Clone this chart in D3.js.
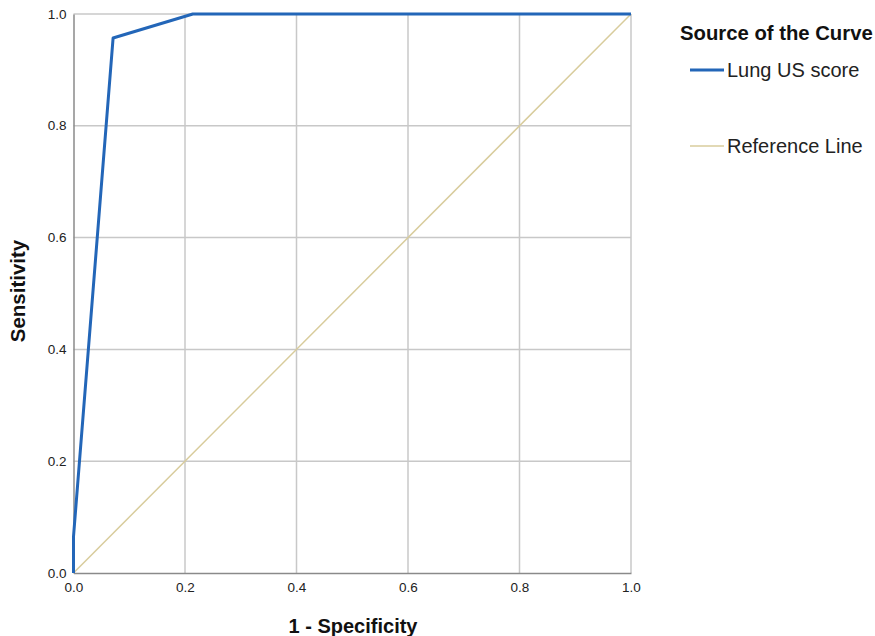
<!DOCTYPE html>
<html><head><meta charset="utf-8">
<script src="https://cdn.jsdelivr.net/npm/d3@7"></script>
<style>body{margin:0;background:#fff;} text{font-family:"Liberation Sans",Arial,sans-serif;}</style>
</head><body>
<svg id="c" width="875" height="636"></svg>
<script>
const rocX = [0, 0, 0.071, 0.214, 1];
const rocY = [0, 0.065, 0.957, 1, 1];
const refX = [0, 1];
const refY = [0, 1];
const ticks = [0, 0.2, 0.4, 0.6, 0.8, 1.0];
const legendLabels = ["Lung US score", "Reference Line"];
const colors = ["#2366b8", "#d8cc9c"];

const svg = d3.select("#c");
const L = 73.5, R = 631, T = 14, B = 573;
const x = d3.scaleLinear().domain([0,1]).range([L,R]);
const y = d3.scaleLinear().domain([0,1]).range([B,T]);

// grid
svg.append("g").selectAll("line.gx").data(ticks.slice(1)).enter().append("line")
  .attr("x1", d=>x(d)).attr("x2", d=>x(d)).attr("y1", T).attr("y2", B)
  .attr("stroke", "#c8c8c8").attr("stroke-width", 1.5);
svg.append("g").selectAll("line.gy").data(ticks.slice(1)).enter().append("line")
  .attr("y1", d=>y(d)).attr("y2", d=>y(d)).attr("x1", L).attr("x2", R)
  .attr("stroke", "#c8c8c8").attr("stroke-width", 1.5);

// axes
const xa = svg.append("g").attr("transform", `translate(0,${B})`)
  .call(d3.axisBottom(x).tickValues(ticks).tickFormat(d3.format(".1f")).tickSize(0).tickPadding(9));
const ya = svg.append("g").attr("transform", `translate(${L},0)`)
  .call(d3.axisLeft(y).tickValues(ticks).tickFormat(d3.format(".1f")).tickSize(0).tickPadding(7));
[xa, ya].forEach(a => {
  a.select(".domain").attr("stroke", "#8a8a8a").attr("stroke-width", 1.5);
  a.selectAll("text").attr("font-size", 13.5).attr("fill", "#222").style("font-family", "Liberation Sans, Arial, sans-serif");
});
ya.selectAll("text").attr("dy", "0.3em");

// reference line
const line = d3.line().x(d=>x(d[0])).y(d=>y(d[1]));
svg.append("path").datum(refX.map((v,i)=>[v, refY[i]])).attr("d", line)
  .attr("fill","none").attr("stroke", colors[1]).attr("stroke-width", 1.5);
// ROC
svg.append("path").datum(rocX.map((v,i)=>[v, rocY[i]])).attr("d", line)
  .attr("fill","none").attr("stroke", colors[0]).attr("stroke-width", 3).attr("stroke-linejoin","round");

// axis titles
svg.append("text").attr("x", 353).attr("y", 633).attr("text-anchor","middle")
  .attr("font-size", 20).attr("font-weight","bold").attr("fill","#111").text("1 - Specificity");
svg.append("text").attr("transform","translate(25,291) rotate(-90)").attr("text-anchor","middle")
  .attr("font-size", 20.5).attr("font-weight","bold").attr("fill","#111").text("Sensitivity");

// legend
svg.append("text").attr("x", 680).attr("y", 40).attr("font-size", 20.3).attr("font-weight","bold")
  .attr("fill","#111").text("Source of the Curve");
const ly = [70, 146];
legendLabels.forEach((lab,i)=>{
  svg.append("line").attr("x1", 690).attr("x2", 724).attr("y1", ly[i]).attr("y2", ly[i])
    .attr("stroke", colors[i]).attr("stroke-width", i===0?3:1.5);
  svg.append("text").attr("x", 727).attr("y", ly[i]+7).attr("font-size", 20)
    .attr("fill","#222").text(lab);
});
</script>
</body></html>
